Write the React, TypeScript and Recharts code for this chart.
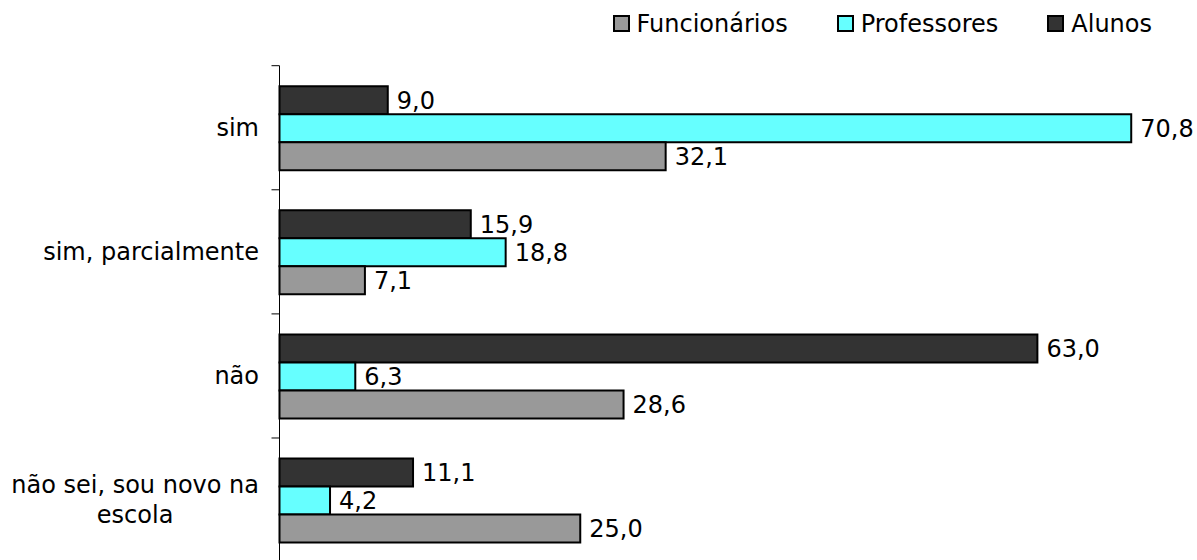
import React from 'react';
import { BarChart, Bar, XAxis, YAxis, Legend, LabelList } from 'recharts';

const categories = ['sim', 'sim, parcialmente', 'não', 'não sei, sou novo na escola'];
const alunos = [9.0, 15.9, 63.0, 11.1];
const professores = [70.8, 18.8, 6.3, 4.2];
const funcionarios = [32.1, 7.1, 28.6, 25.0];

const seriesNames = { funcionarios: 'Funcionários', professores: 'Professores', alunos: 'Alunos' };
const legendOrder: (keyof typeof seriesNames)[] = ['funcionarios', 'professores', 'alunos'];
const colors = { funcionarios: '#999999', professores: '#66FFFF', alunos: '#333333' };

const data = categories.map((name, i) => ({
  name,
  alunos: alunos[i],
  professores: professores[i],
  funcionarios: funcionarios[i],
}));

const FONT = '"DejaVu Sans", Verdana, sans-serif';
const W = 1197;
const H = 560;
const TOP = 65.7;
const BOTTOM = -2.1;
const LEFT = 279.5;
const RIGHT = 15.25;
const BAND = (H - TOP - BOTTOM) / categories.length;
const TICK_SIZE = 8;
const TICK_MARGIN = 12.5;

let ctx: CanvasRenderingContext2D | null = null;
function measure(s: string): number {
  if (!ctx) {
    const c = document.createElement('canvas');
    ctx = c.getContext('2d');
  }
  if (!ctx) return s.length * 12;
  ctx.font = '24px "DejaVu Sans"';
  return ctx.measureText(s).width;
}

function wrap(label: string, maxChars: number): string[] {
  const words = label.split(' ');
  const lines: string[] = [];
  let cur = '';
  for (const w of words) {
    const next = cur ? cur + ' ' + w : w;
    if (next.length > maxChars && cur) {
      lines.push(cur);
      cur = w;
    } else {
      cur = next;
    }
  }
  if (cur) lines.push(cur);
  return lines;
}

const CategoryTick = (props: any) => {
  const { x, y, payload, index, visibleTicksCount } = props;
  const lines = wrap(String(payload.value), 20);
  const blockW = Math.max(...lines.map(measure));
  const axisX = x + TICK_MARGIN + TICK_SIZE;
  const n = lines.length;
  return (
    <g>
      <line x1={axisX - TICK_SIZE} x2={axisX} y1={y - BAND / 2} y2={y - BAND / 2} stroke="#000" strokeWidth={1} />
      {index === visibleTicksCount - 1 && (
        <line x1={axisX - TICK_SIZE} x2={axisX} y1={y + BAND / 2} y2={y + BAND / 2} stroke="#000" strokeWidth={1} />
      )}
      {lines.map((ln, i) => (
        <text
          key={i}
          x={n > 1 ? x - blockW / 2 : x}
          y={y + 8.3 + (i - (n - 1) / 2) * 30}
          textAnchor={n > 1 ? 'middle' : 'end'}
          fontFamily={FONT}
          fontSize={24}
          fill="#000"
        >
          {ln}
        </text>
      ))}
    </g>
  );
};

const renderLegend = () => (
  <div
    style={{
      width: W,
      height: TOP,
      display: 'flex',
      justifyContent: 'flex-end',
      alignItems: 'flex-start',
      boxSizing: 'border-box',
      paddingRight: 45,
      paddingTop: 10,
      fontFamily: FONT,
      fontSize: 24,
      lineHeight: '28px',
      color: '#000',
    }}
  >
    {legendOrder.map((k, i) => (
      <div key={k} style={{ display: 'flex', alignItems: 'flex-start', marginLeft: i === 0 ? 0 : 49 }}>
        <div
          style={{
            width: 17,
            height: 17,
            boxSizing: 'border-box',
            border: '2px solid #000',
            background: colors[k],
            marginTop: 4.5,
            marginRight: 7,
          }}
        />
        <span>{seriesNames[k]}</span>
      </div>
    ))}
  </div>
);

const fmt = (v: any) => Number(v).toFixed(1).replace('.', ',');

export default function App() {
  return (
    <div style={{ position: 'absolute', left: 0, top: 0, width: W, height: H, background: '#fff' }}>
      <BarChart
        width={W}
        height={H}
        data={data}
        layout="vertical"
        margin={{ top: 0, right: RIGHT, bottom: BOTTOM, left: 0 }}
        barCategoryGap={20.5}
        barGap={0}
      >
        <XAxis type="number" domain={[0, 75]} hide />
        <YAxis
          type="category"
          dataKey="name"
          width={LEFT}
          axisLine={{ stroke: '#000', strokeWidth: 1 }}
          tickLine={false}
          tickSize={TICK_SIZE}
          tickMargin={TICK_MARGIN}
          tick={<CategoryTick />}
          interval={0}
        />
        <Legend
          verticalAlign="top"
          align="right"
          layout="horizontal"
          wrapperStyle={{ left: 0, top: 0, width: W }}
          content={renderLegend}
        />
        {(['alunos', 'professores', 'funcionarios'] as const).map((k) => (
          <Bar
            key={k}
            dataKey={k}
            name={seriesNames[k]}
            fill={colors[k]}
            stroke="#000"
            strokeWidth={2}
            isAnimationActive={false}
          >
            <LabelList
              dataKey={k}
              position="right"
              offset={9}
              formatter={fmt}
              style={{ fontFamily: FONT, fontSize: 24, fill: '#000' }}
            />
          </Bar>
        ))}
      </BarChart>
    </div>
  );
}
